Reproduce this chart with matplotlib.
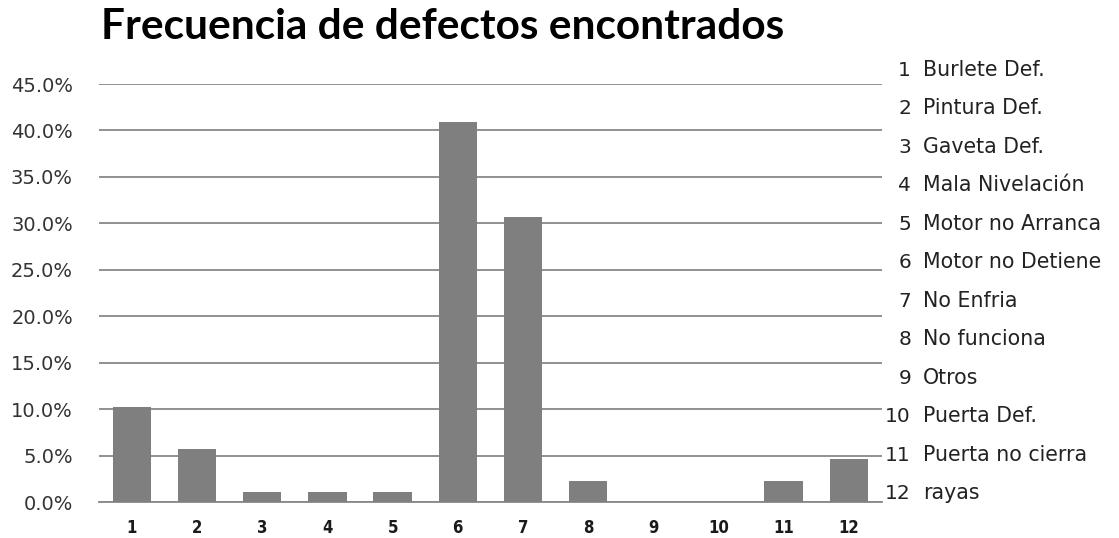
import matplotlib
matplotlib.use("Agg")
import matplotlib.pyplot as plt
from matplotlib import font_manager
from matplotlib.ticker import PercentFormatter, MultipleLocator

# Defect categories and their share of all defects found (%)
categories = [str(i) for i in range(1, 13)]
defect_names = [
    "Burlete Def.", "Pintura Def.", "Gaveta Def.", "Mala Nivelación",
    "Motor no Arranca", "Motor no Detiene", "No Enfria", "No funciona",
    "Otros", "Puerta Def.", "Puerta no cierra", "rayas",
]
frequency_pct = [10.2, 5.7, 1.1, 1.1, 1.1, 40.9, 30.7, 2.3, 0.0, 0.0, 2.3, 4.6]

title = "Frecuencia de defectos encontrados"

W, H = 1119, 538
fig = plt.figure(figsize=(W / 100, H / 100), dpi=100)
ax = fig.add_axes([99.3 / W, (H - 502) / H, (881.5 - 99.3) / W, (502 - 84) / H])

grid_color = "#888888"
bar_color = "#7f7f7f"

x = list(range(len(categories)))
ax.bar(x, frequency_pct, width=0.59, color=bar_color, zorder=3)

ax.set_xlim(-0.5, len(categories) - 0.5)
ax.set_ylim(0, 45)
ax.yaxis.set_major_locator(MultipleLocator(5))
ax.yaxis.set_major_formatter(PercentFormatter(xmax=100, decimals=1))
ax.grid(axis="y", color=grid_color, linewidth=1.3, zorder=0)
ax.set_axisbelow(True)

for side in ("left", "right", "top"):
    ax.spines[side].set_visible(False)
ax.spines["bottom"].set_color(grid_color)
ax.spines["bottom"].set_linewidth(1.3)

# Narrow bold digits for the category axis
installed = {f.name for f in font_manager.fontManager.ttflist}
narrow_family = "Liberation Sans Narrow" if "Liberation Sans Narrow" in installed else "DejaVu Sans"

ax.set_xticks(x)
ax.set_xticklabels(categories, family=narrow_family, stretch="condensed",
                   fontweight="bold", fontsize=12, color="#1a1a1a")
ax.tick_params(axis="x", length=0, pad=12)
ax.tick_params(axis="y", length=0, pad=19, labelsize=14, labelcolor="#333333")
for lbl in ax.get_yticklabels():
    lbl.set_family("DejaVu Sans")

# Title
fig.text(101 / W, (H - 39) / H, title, family=["Lato", "DejaVu Sans"],
         fontweight="bold", fontsize=30.5, color="black", ha="left", va="baseline")

# Category key on the right
for i, (num, name) in enumerate(zip(categories, defect_names)):
    yb = (H - (75.8 + 38.5 * i)) / H
    fig.text(911 / W, yb, num, fontsize=14.5, color="#222222",
             ha="right", va="baseline", family="DejaVu Sans")
    fig.text(923 / W, yb, name, fontsize=14.8, color="#222222",
             ha="left", va="baseline", family="DejaVu Sans")

fig.savefig("out.png", dpi=100)
